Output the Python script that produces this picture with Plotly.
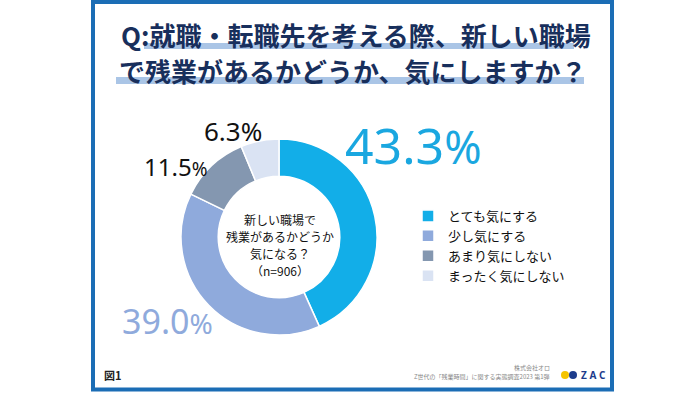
import plotly.graph_objects as go

categories = ["とても気にする", "少し気にする", "あまり気にしない", "まったく気にしない"]
values = [43.3, 39.0, 11.5, 6.3]
colors = ["#12aee8", "#8faadc", "#8497b0", "#dae3f3"]
title_lines = ["Q:就職・転職先を考える際、新しい職場", "で残業があるかどうか、気にしますか？"]
center_text = ["新しい職場で", "残業があるかどうか", "気になる？", "（n=906）"]

W, H = 700, 393

def px(x):
    return x / W

def py(y):
    return 1 - y / H

fig = go.Figure()

cx, cy, r = 279, 237, 98
fig.add_trace(go.Pie(
    labels=categories,
    values=values,
    hole=0.62,
    sort=False,
    direction="clockwise",
    rotation=0,
    textinfo="none",
    hoverinfo="label+percent",
    marker=dict(colors=colors, line=dict(color="white", width=1.5)),
    domain=dict(x=[px(cx - r), px(cx + r)], y=[py(cy + r), py(cy - r)]),
    showlegend=True,
))

shapes = []
# frame
shapes.append(dict(type="rect", xref="paper", yref="paper",
                   x0=px(93), x1=px(612), y0=py(389.5), y1=py(2),
                   line=dict(color="#1b6db5", width=4), fillcolor="rgba(0,0,0,0)"))
# title highlight bars
shapes.append(dict(type="rect", xref="paper", yref="paper", layer="below",
                   x0=px(144), x1=px(574), y0=py(49), y1=py(43),
                   line=dict(width=0), fillcolor="#aac5e6"))
shapes.append(dict(type="rect", xref="paper", yref="paper", layer="below",
                   x0=px(116), x1=px(584), y0=py(84), y1=py(77),
                   line=dict(width=0), fillcolor="#aac5e6"))
# logo dots
shapes.append(dict(type="circle", xref="paper", yref="paper",
                   x0=px(561), x1=px(569), y0=py(379), y1=py(371),
                   line=dict(width=0), fillcolor="#f5c400"))
shapes.append(dict(type="circle", xref="paper", yref="paper",
                   x0=px(569), x1=px(577), y0=py(379), y1=py(371),
                   line=dict(width=0), fillcolor="#1d3c8c"))

ann = []
title_font = dict(family="Noto Sans CJK JP", size=26, color="#182f5c")
ann.append(dict(x=px(356), y=py(34), text="<b>" + title_lines[0] + "</b>", showarrow=False,
                xref="paper", yref="paper", font=title_font, xanchor="center", yanchor="middle"))
ann.append(dict(x=px(352), y=py(70), text="<b>" + title_lines[1] + "</b>", showarrow=False,
                xref="paper", yref="paper", font=title_font, xanchor="center", yanchor="middle"))

num_font = "Noto Sans"
def pct_label(v, x, y, size, psize, color):
    ann.append(dict(x=px(x), y=py(y), xref="paper", yref="paper", showarrow=False,
                    text=f"{v:.1f}<span style='font-size:{psize}px'>%</span>",
                    font=dict(family=num_font, size=size, color=color),
                    xanchor="left", yanchor="middle"))

pct_label(values[0], 343, 145, 50, 45, "#1aa7e0")
pct_label(values[1], 120, 321, 34, 28, "#8faadc")
pct_label(values[2], 142, 166, 24, 19, "#111111")
pct_label(values[3], 202, 131, 26, 26, "#111111")

line_y = [219.5, 236.5, 253.5, 270.5]
for txt, yy in zip(center_text, line_y):
    ann.append(dict(x=px(280), y=py(yy), xref="paper", yref="paper", showarrow=False,
                    text=txt, font=dict(family="Noto Sans CJK JP", size=12, color="#111111"),
                    xanchor="center", yanchor="middle", align="center"))

ann.append(dict(x=px(102), y=py(375), xref="paper", yref="paper", showarrow=False,
                text="<b>図1</b>", font=dict(family="Noto Sans CJK JP", size=11, color="#222222"),
                xanchor="left", yanchor="middle"))
ann.append(dict(x=px(552), y=py(367), xref="paper", yref="paper", showarrow=False,
                text="株式会社オロ", font=dict(family="Noto Sans CJK JP", size=6, color="#888888"),
                xanchor="right", yanchor="middle"))
ann.append(dict(x=px(552), y=py(376), xref="paper", yref="paper", showarrow=False,
                text="Z世代の「残業時間」に関する実態調査2023 第1弾",
                font=dict(family="Noto Sans CJK JP", size=6, color="#888888"),
                xanchor="right", yanchor="middle"))
ann.append(dict(x=px(579), y=py(375), xref="paper", yref="paper", showarrow=False,
                text="<b>Z A C</b>", font=dict(family="Noto Sans", size=10, color="#1d3c8c"),
                xanchor="left", yanchor="middle"))

fig.update_layout(
    width=W, height=H,
    margin=dict(l=0, r=0, t=0, b=0),
    paper_bgcolor="white", plot_bgcolor="white",
    shapes=shapes, annotations=ann,
    legend=dict(x=px(408), y=py(201), xanchor="left", yanchor="top",
                font=dict(family="Noto Sans CJK JP", size=13, color="#111111"),
                bgcolor="rgba(0,0,0,0)", itemclick=False),
)

fig.write_html("out.html", config={"displayModeBar": False},
               post_script="document.body.style.margin='0';")
